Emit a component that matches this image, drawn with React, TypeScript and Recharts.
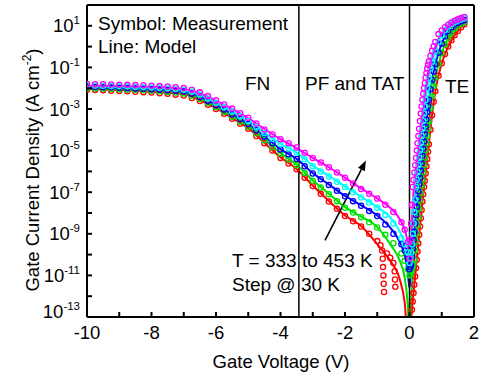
import React from 'react';
import { ComposedChart, XAxis, YAxis, Line, Scatter, ReferenceLine } from 'recharts';

const FONT = '"Liberation Sans", Arial, Helvetica, sans-serif';

// measurement voltages (V)
const measV = [
  -10, -9.75, -9.5, -9.25, -9, -8.75, -8.5, -8.25, -8, -7.75,
  -7.5, -7.25, -7, -6.75, -6.5, -6.25, -6, -5.75, -5.5, -5.25,
  -5, -4.75, -4.5, -4.25, -4, -3.75, -3.5, -3.25, -3, -2.75,
  -2.5, -2.25, -2, -1.75, -1.5, -1.25, -1, -0.75, -0.5, -0.25,
  -0.15, -0.05, 0,
  0.025, 0.05, 0.075, 0.1, 0.125, 0.15, 0.175, 0.2, 0.225, 0.25,
  0.275, 0.3, 0.325, 0.35, 0.375, 0.4, 0.425, 0.45, 0.475, 0.5,
  0.525, 0.55, 0.575, 0.6, 0.65, 0.7, 0.75, 0.8, 0.9, 1.0,
  1.1, 1.2, 1.3, 1.4, 1.5, 1.6, 1.7,
];

// log10 of measured |J| (A cm^-2) per temperature
const meas453 = [
  -1.80, -1.81, -1.81, -1.82, -1.83, -1.84, -1.85, -1.86, -1.88, -1.90,
  -1.92, -1.95, -1.99, -2.07, -2.20, -2.38, -2.58, -2.78, -2.98, -3.20,
  -3.42, -3.70, -3.98, -4.22, -4.45, -4.65, -4.85, -5.10, -5.35, -5.57,
  -5.80, -6.05, -6.30, -6.58, -6.85, -7.08, -7.30, -7.60, -7.95, -8.45,
  -8.80, -9.40, -10.2,
  -9.3, -8.5, -7.6, -6.75, -6.4, -6.05, -5.7, -5.35, -5.0, -4.65,
  -4.3, -3.95, -3.58, -3.22, -2.88, -2.55, -2.27, -2.0, -1.75, -1.5,
  -1.27, -1.05, -0.87, -0.72, -0.45, -0.2, 0.02, 0.22, 0.6, 0.78,
  0.93, 1.05, 1.15, 1.24, 1.31, 1.37, 1.42,
];
const meas423 = [
  -1.86, -1.87, -1.88, -1.89, -1.90, -1.91, -1.93, -1.94, -1.96, -1.98,
  -2.00, -2.03, -2.07, -2.16, -2.30, -2.49, -2.70, -2.91, -3.12, -3.35,
  -3.58, -3.86, -4.15, -4.43, -4.70, -4.90, -5.10, -5.42, -5.75, -6.00,
  -6.25, -6.50, -6.75, -7.00, -7.25, -7.50, -7.75, -8.10, -8.50, -9.20,
  -9.5, -9.9, -10.4,
  -10.2, -9.9, -9.5, -9.0, -8.5, -7.95, -7.35, -6.75, -6.4, -6.05,
  -5.7, -5.35, -5.0, -4.65, -4.3, -3.95, -3.58, -3.22, -2.88, -2.55,
  -2.27, -2.0, -1.75, -1.5, -1.05, -0.72, -0.45, -0.2, 0.22, 0.55,
  0.8, 0.97, 1.09, 1.18, 1.25, 1.31, 1.36,
];
const meas393 = [
  -1.93, -1.94, -1.95, -1.96, -1.98, -1.99, -2.01, -2.03, -2.05, -2.07,
  -2.10, -2.13, -2.16, -2.27, -2.42, -2.61, -2.82, -3.03, -3.25, -3.48,
  -3.72, -4.02, -4.33, -4.65, -4.95, -5.18, -5.40, -5.75, -6.10, -6.38,
  -6.65, -6.93, -7.20, -7.43, -7.65, -7.90, -8.15, -8.55, -9.00, -9.50,
  -9.8, -10.2, -10.7,
  -10.6, -10.5, -10.1, -9.7, -9.3, -8.9, -8.5, -8.1, -7.7, -7.3,
  -6.95, -6.6, -6.3, -5.95, -5.6, -5.25, -4.9, -4.55, -4.2, -3.85,
  -3.5, -3.15, -2.85, -2.55, -2.05, -1.6, -1.2, -0.85, -0.3, 0.15,
  0.5, 0.75, 0.93, 1.06, 1.15, 1.22, 1.27,
];
const meas363 = [
  -2.00, -2.01, -2.02, -2.04, -2.05, -2.07, -2.08, -2.10, -2.12, -2.15,
  -2.18, -2.21, -2.25, -2.36, -2.52, -2.71, -2.92, -3.14, -3.37, -3.61,
  -3.85, -4.17, -4.50, -4.83, -5.15, -5.42, -5.70, -6.08, -6.45, -6.78,
  -7.10, -7.43, -7.75, -7.98, -8.20, -8.45, -8.70, -9.05, -9.45, -9.95,
  -10.3, -10.7, -11.0,
  -10.95, -10.85, -10.75, -10.6, -10.45, -10.25, -9.8, -9.4, -9.0, -8.6,
  -8.2, -7.8, -7.4, -7.05, -6.7, -6.4, -6.05, -5.7, -5.35, -5.0,
  -4.65, -4.3, -3.95, -3.62, -2.95, -2.4, -1.9, -1.5, -0.85, -0.3,
  0.1, 0.42, 0.67, 0.86, 1.0, 1.1, 1.18,
];
const meas333 = [
  -2.08, -2.09, -2.10, -2.12, -2.13, -2.15, -2.17, -2.19, -2.21, -2.24,
  -2.27, -2.31, -2.35, -2.47, -2.62, -2.80, -3.00, -3.23, -3.47, -3.71,
  -3.95, -4.30, -4.65, -5.00, -5.35, -5.62, -5.90, -6.30, -6.70, -7.08,
  -7.45, -7.80, -8.15, -8.40, -8.65, -9.00, -9.35, null, null, null,
  null, null, null,
  null, null, -12.65, -12.25, -11.85, -11.45, -11.05, -10.65, -10.25, -9.85,
  -9.45, -9.05, -8.65, -8.25, -7.85, -7.45, -7.1, -6.75, -6.45, -6.1,
  -5.75, -5.4, -5.05, -4.7, -4.0, -3.3, -2.65, -2.15, -1.4, -0.8,
  -0.35, 0.0, 0.3, 0.55, 0.75, 0.93, 1.08,
];
// noisy low-current points of the 333 K curve
const meas333TailV = [-0.9, -0.85, -0.83, -0.82, -0.81, -0.8, -0.79, -0.7, -0.6, -0.5, -0.46, -0.45, -0.44];
const meas333TailE = [-9.55, -9.8, -10.2, -10.6, -11.0, -11.4, -11.8, -9.95, -10.15, -10.4, -10.8, -11.2, -11.55];

// model voltages (V)
const modelV = [
  -10, -9, -8, -7.5, -7, -6.5, -6, -5.5, -5, -4.5, -4, -3.5, -3, -2.5, -2, -1.5, -1, -0.6, -0.3, -0.15, -0.05, 0,
  0.05, 0.1, 0.15, 0.2, 0.3, 0.4, 0.5, 0.6, 0.7, 0.8, 0.9, 1.0, 1.2, 1.4, 1.6, 1.75,
];
const model453 = [
  -1.88, -1.9, -1.94, -1.97, -2.04, -2.24, -2.6, -3.0, -3.44, -3.96, -4.45, -4.88, -5.35, -5.8, -6.3, -6.82, -7.3, -7.75, -8.3, -8.8, -9.5, -10.3,
  -9.2, -7.6, -6.5, -5.85, -4.5, -3.1, -1.95, -1.05, -0.45, 0.0, 0.38, 0.65, 1.0, 1.22, 1.35, 1.4,
];
const model423 = [
  -1.92, -1.94, -1.99, -2.02, -2.1, -2.32, -2.7, -3.12, -3.58, -4.13, -4.68, -5.1, -5.72, -6.22, -6.72, -7.22, -7.72, -8.2, -8.9, -9.5, -10.2, -10.8,
  -9.8, -8.6, -7.6, -6.75, -5.35, -3.95, -2.55, -1.5, -0.72, -0.2, 0.22, 0.55, 0.97, 1.18, 1.31, 1.37,
];
const model393 = [
  -1.96, -1.99, -2.04, -2.08, -2.15, -2.4, -2.8, -3.24, -3.72, -4.32, -4.93, -5.4, -6.08, -6.63, -7.18, -7.63, -8.12, -8.7, -9.4, -10.0, -10.9, -11.6,
  -10.6, -9.7, -8.9, -8.1, -6.6, -5.25, -3.85, -2.55, -1.6, -0.85, -0.3, 0.15, 0.75, 1.06, 1.22, 1.28,
];
const model363 = [
  -2.0, -2.04, -2.1, -2.14, -2.2, -2.48, -2.88, -3.34, -3.83, -4.47, -5.12, -5.68, -6.42, -7.07, -7.72, -8.17, -8.68, -9.5, -10.3, -11.1, -12.5, -14,
  -12.1, -11.1, -10.2, -9.4, -7.8, -6.4, -5.0, -3.62, -2.4, -1.5, -0.85, -0.3, 0.42, 0.86, 1.1, 1.2,
];
const model333 = [
  -2.04, -2.09, -2.17, -2.22, -2.28, -2.58, -2.96, -3.44, -3.92, -4.62, -5.32, -5.88, -6.68, -7.42, -8.12, -8.62, -9.5, -10.3, -11.2, -12.3, -14, -14,
  -13.2, -12.25, -11.45, -10.65, -9.05, -7.45, -6.1, -4.7, -3.3, -2.15, -1.4, -0.8, 0.0, 0.55, 0.93, 1.1,
];

const xTicks = [-10, -9, -8, -7, -6, -5, -4, -3, -2, -1, 0, 1, 2];
const yTicks = [-13, -12, -11, -10, -9, -8, -7, -6, -5, -4, -3, -2, -1, 0, 1];

const COLORS = { t333: '#ff0000', t363: '#00e000', t393: '#0000ff', t423: '#00ffff', t453: '#ff00ff' };

const pts = (vs: number[], es: (number | null)[]) =>
  vs.map((v, i) => ({ v, e: es[i] })).filter((p) => p.e !== null && p.e !== undefined && (p.e as number) >= -13);
const linePts = (vs: number[], es: number[]) => vs.map((v, i) => ({ v, e: es[i] }));

const measSeries = [
  { key: 'm333', color: COLORS.t333, data: [...pts(measV, meas333), ...pts(meas333TailV, meas333TailE)] },
  { key: 'm363', color: COLORS.t363, data: pts(measV, meas363) },
  { key: 'm393', color: COLORS.t393, data: pts(measV, meas393) },
  { key: 'm423', color: COLORS.t423, data: pts(measV, meas423) },
  { key: 'm453', color: COLORS.t453, data: pts(measV, meas453) },
];
const modelSeries = [
  { key: 'l333', color: COLORS.t333, data: linePts(modelV, model333) },
  { key: 'l363', color: COLORS.t363, data: linePts(modelV, model363) },
  { key: 'l393', color: COLORS.t393, data: linePts(modelV, model393) },
  { key: 'l423', color: COLORS.t423, data: linePts(modelV, model423) },
  { key: 'l453', color: COLORS.t453, data: linePts(modelV, model453) },
];

const XTick = (props: any) => {
  const { x, y, payload } = props;
  const v = payload.value;
  const major = v % 2 === 0;
  return (
    <g>
      <line x1={x} x2={x} y1={y} y2={y - 5} stroke="#000" strokeWidth={2} />
      {major && (
        <text x={x} y={y + 21.5} textAnchor="middle" fontSize={18.5} fontFamily={FONT} fill="#000">
          {v}
        </text>
      )}
    </g>
  );
};

const YTick = (props: any) => {
  const { x, y, payload } = props;
  const e = payload.value;
  const major = Math.abs(e) % 2 === 1;
  const yy = e === -13 ? y - 6 : y;
  return (
    <g>
      <line x1={x} x2={x + 5} y1={y} y2={y} stroke="#000" strokeWidth={2} />
      {major && (
        <text x={x - 7} y={yy + 6.5} textAnchor="end" fontSize={18.5} fontFamily={FONT} fill="#000">
          10
          <tspan dy={-8} fontSize={11.5}>
            {e}
          </tspan>
        </text>
      )}
    </g>
  );
};

const Circle = (color: string) => (props: any) => {
  const { cx, cy } = props;
  if (cx == null || cy == null) return <g />;
  return <circle cx={cx} cy={cy} r={2.6} fill="none" stroke={color} strokeWidth={1.3} />;
};

const ArrowShape = (props: any) => {
  const { x1, y1, x2, y2 } = props;
  const dx = x2 - x1;
  const dy = y2 - y1;
  const len = Math.sqrt(dx * dx + dy * dy) || 1;
  const ux = dx / len;
  const uy = dy / len;
  const hl = 10;
  const hw = 3.8;
  const bx = x2 - ux * hl;
  const by = y2 - uy * hl;
  return (
    <g>
      <line x1={x1} y1={y1} x2={bx} y2={by} stroke="#000" strokeWidth={1.6} />
      <polygon
        points={`${x2},${y2} ${bx - uy * hw},${by + ux * hw} ${bx + uy * hw},${by - ux * hw}`}
        fill="#000"
      />
    </g>
  );
};

const txt = { fontFamily: FONT, fontSize: 19, fill: '#000' } as const;

export default function App() {
  return (
    <div style={{ position: 'absolute', left: 0, top: 0, width: 485, height: 376, background: '#fff' }}>
      <ComposedChart width={485} height={376} margin={{ top: 5, right: 11, bottom: 0, left: 0 }}>
        <XAxis
          type="number"
          dataKey="v"
          domain={[-10, 2]}
          ticks={xTicks}
          interval={0}
          allowDataOverflow
          tick={XTick}
          tickLine={false}
          tickSize={0}
          tickMargin={0}
          height={59}
          axisLine={{ stroke: '#000', strokeWidth: 2 }}
        />
        <YAxis
          type="number"
          dataKey="e"
          domain={[-13, 2]}
          ticks={yTicks}
          interval={0}
          allowDataOverflow
          tick={YTick}
          tickLine={false}
          tickSize={0}
          tickMargin={0}
          width={87}
          axisLine={{ stroke: '#000', strokeWidth: 2 }}
        />
        {measSeries.map((s) => (
          <Scatter
            key={s.key}
            data={s.data}
            dataKey="e"
            shape={Circle(s.color)}
            isAnimationActive={false}
          />
        ))}
        {modelSeries.map((s) => (
          <Line
            key={s.key}
            data={s.data}
            dataKey="e"
            type="monotone"
            stroke={s.color}
            strokeWidth={2}
            dot={false}
            activeDot={false}
            isAnimationActive={false}
          />
        ))}
        <ReferenceLine x={-3.43} stroke="#000" strokeWidth={1.5} />
        <ReferenceLine x={0} stroke="#000" strokeWidth={1.5} />
        <ReferenceLine y={2} stroke="#000" strokeWidth={2} />
        <ReferenceLine x={2} stroke="#000" strokeWidth={2} />
        <ReferenceLine
          segment={[
            { x: -2.62, y: -9.32 },
            { x: -1.35, y: -5.48 },
          ]}
          shape={ArrowShape}
        />
      </ComposedChart>
      <svg
        width={485}
        height={376}
        style={{ position: 'absolute', left: 0, top: 0, pointerEvents: 'none' }}
      >
        <text x={98} y={30} {...txt}>Symbol: Measurement</text>
        <text x={98} y={53} {...txt}>Line: Model</text>
        <text x={245} y={90} {...txt}>FN</text>
        <text x={305} y={90} {...txt}>PF and TAT</text>
        <text x={445} y={93} {...txt}>TE</text>
        <text x={232} y={267} {...txt}>T = 333 to 453 K</text>
        <text x={232} y={291} {...txt}>Step @ 30 K</text>
        <text
          transform="translate(38.5,170) rotate(-90)"
          textAnchor="middle"
          fontFamily={FONT}
          fontSize={18.5}
          fill="#000"
        >
          Gate Current Density (A cm
          <tspan dy={-8} fontSize={12}>-2</tspan>
          <tspan dy={8}>)</tspan>
        </text>
        <text x={281} y={368} textAnchor="middle" fontFamily={FONT} fontSize={18.5} fill="#000">
          Gate Voltage (V)
        </text>
      </svg>
    </div>
  );
}
